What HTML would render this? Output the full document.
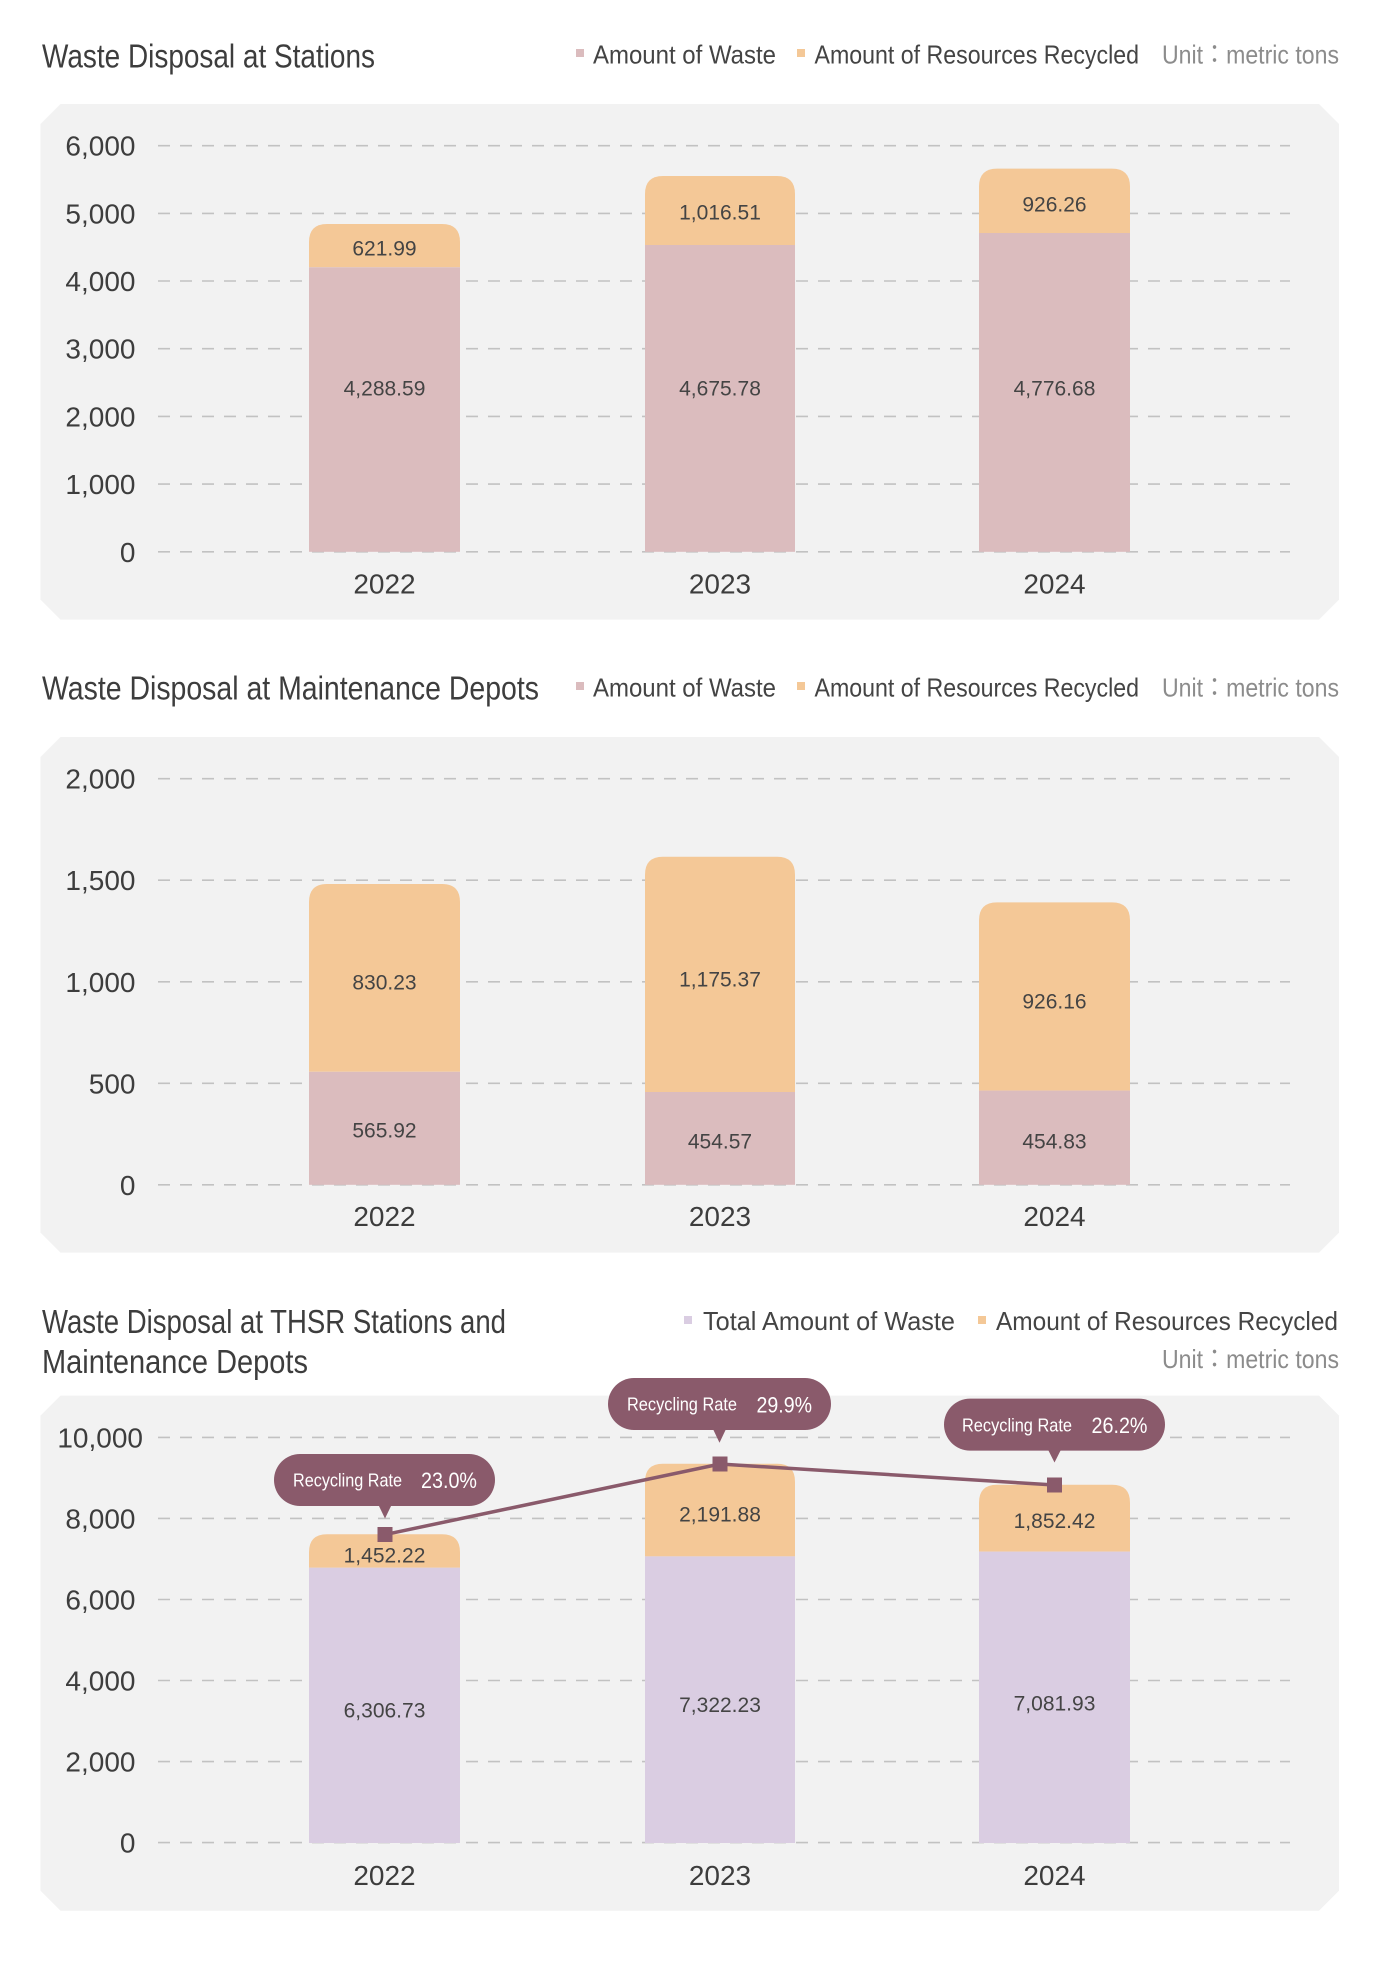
<!DOCTYPE html>
<html>
<head>
<meta charset="utf-8">
<style>
html,body{margin:0;padding:0;background:#ffffff;}
svg{display:block;}
text{font-family:"Liberation Sans","Noto Sans CJK TC",sans-serif;}
</style>
</head>
<body>
<svg width="1380" height="1966" viewBox="0 0 1380 1966" xmlns="http://www.w3.org/2000/svg">
<rect width="1380" height="1966" fill="#ffffff"/>

<!-- ============ CHART 1 ============ -->
<g>
<text x="42" y="67.5" font-size="33" fill="#3d3d3d" textLength="333" lengthAdjust="spacingAndGlyphs">Waste Disposal at Stations</text>
<rect x="576" y="49" width="8" height="8" fill="#dbbcbe"/>
<text x="593" y="63.5" font-size="26" fill="#444" textLength="183" lengthAdjust="spacingAndGlyphs">Amount of Waste</text>
<rect x="797" y="49" width="8" height="8" fill="#f4c897"/>
<text x="814.5" y="63.5" font-size="26" fill="#444" textLength="324.5" lengthAdjust="spacingAndGlyphs">Amount of Resources Recycled</text>
<text x="1162" y="63.5" font-size="26" fill="#8c8c8c" textLength="177" lengthAdjust="spacingAndGlyphs">Unit：metric tons</text>

<polygon points="60.5,104 1319,104 1339,124 1339,599.6 1319,619.6 60.5,619.6 40.5,599.6 40.5,124" fill="#f2f2f2"/>

<g stroke="#c2c2c2" stroke-width="1.6" stroke-dasharray="12 10">
<line x1="158" y1="145.7" x2="1290" y2="145.7"/>
<line x1="158" y1="213.4" x2="1290" y2="213.4"/>
<line x1="158" y1="281.0" x2="1290" y2="281.0"/>
<line x1="158" y1="348.7" x2="1290" y2="348.7"/>
<line x1="158" y1="416.4" x2="1290" y2="416.4"/>
<line x1="158" y1="484.1" x2="1290" y2="484.1"/>
<line x1="158" y1="551.8" x2="1290" y2="551.8"/>
</g>
<g font-size="28" fill="#3d3d3d" text-anchor="end">
<text x="135.5" y="155.7">6,000</text>
<text x="135.5" y="223.4">5,000</text>
<text x="135.5" y="291.0">4,000</text>
<text x="135.5" y="358.7">3,000</text>
<text x="135.5" y="426.4">2,000</text>
<text x="135.5" y="494.1">1,000</text>
<text x="135.5" y="561.8">0</text>
</g>

<!-- bars -->
<path d="M309,267.3 L309,242 Q309,224 327,224 L442,224 Q460,224 460,242 L460,267.3 Z" fill="#f4c897"/>
<rect x="309" y="267.3" width="151" height="284.5" fill="#dbbcbe"/>
<path d="M645,245 L645,194 Q645,176 663,176 L777,176 Q795,176 795,194 L795,245 Z" fill="#f4c897"/>
<rect x="645" y="245" width="150" height="306.8" fill="#dbbcbe"/>
<path d="M979,233 L979,186.6 Q979,168.6 997,168.6 L1112,168.6 Q1130,168.6 1130,186.6 L1130,233 Z" fill="#f4c897"/>
<rect x="979" y="233" width="151" height="318.8" fill="#dbbcbe"/>

<g font-size="21" fill="#444" text-anchor="middle">
<text x="384.5" y="255.3">621.99</text>
<text x="384.5" y="395.3">4,288.59</text>
<text x="720" y="219.7">1,016.51</text>
<text x="720" y="395.3">4,675.78</text>
<text x="1054.5" y="211.5">926.26</text>
<text x="1054.5" y="395.3">4,776.68</text>
</g>
<g font-size="28" fill="#3d3d3d" text-anchor="middle">
<text x="384.5" y="593.7">2022</text>
<text x="720" y="593.7">2023</text>
<text x="1054.5" y="593.7">2024</text>
</g>
</g>

<!-- ============ CHART 2 ============ -->
<g>
<text x="42" y="699.5" font-size="33" fill="#3d3d3d" textLength="497" lengthAdjust="spacingAndGlyphs">Waste Disposal at Maintenance Depots</text>
<rect x="576" y="682" width="8" height="8" fill="#dbbcbe"/>
<text x="593" y="696.5" font-size="26" fill="#444" textLength="183" lengthAdjust="spacingAndGlyphs">Amount of Waste</text>
<rect x="797" y="682" width="8" height="8" fill="#f4c897"/>
<text x="814.5" y="696.5" font-size="26" fill="#444" textLength="324.5" lengthAdjust="spacingAndGlyphs">Amount of Resources Recycled</text>
<text x="1162" y="696.5" font-size="26" fill="#8c8c8c" textLength="177" lengthAdjust="spacingAndGlyphs">Unit：metric tons</text>

<polygon points="60.5,737 1319,737 1339,757 1339,1232.6 1319,1252.6 60.5,1252.6 40.5,1232.6 40.5,757" fill="#f2f2f2"/>

<g stroke="#c2c2c2" stroke-width="1.6" stroke-dasharray="12 10">
<line x1="158" y1="778.7" x2="1290" y2="778.7"/>
<line x1="158" y1="880.2" x2="1290" y2="880.2"/>
<line x1="158" y1="981.8" x2="1290" y2="981.8"/>
<line x1="158" y1="1083.3" x2="1290" y2="1083.3"/>
<line x1="158" y1="1184.8" x2="1290" y2="1184.8"/>
</g>
<g font-size="28" fill="#3d3d3d" text-anchor="end">
<text x="135.5" y="788.7">2,000</text>
<text x="135.5" y="890.2">1,500</text>
<text x="135.5" y="991.8">1,000</text>
<text x="135.5" y="1093.3">500</text>
<text x="135.5" y="1194.8">0</text>
</g>

<path d="M309,1071.8 L309,902 Q309,884 327,884 L442,884 Q460,884 460,902 L460,1071.8 Z" fill="#f4c897"/>
<rect x="309" y="1071.8" width="151" height="113" fill="#dbbcbe"/>
<path d="M645,1092 L645,874.7 Q645,856.7 663,856.7 L777,856.7 Q795,856.7 795,874.7 L795,1092 Z" fill="#f4c897"/>
<rect x="645" y="1092" width="150" height="92.8" fill="#dbbcbe"/>
<path d="M979,1090.6 L979,920.4 Q979,902.4 997,902.4 L1112,902.4 Q1130,902.4 1130,920.4 L1130,1090.6 Z" fill="#f4c897"/>
<rect x="979" y="1090.6" width="151" height="94.2" fill="#dbbcbe"/>

<g font-size="21" fill="#444" text-anchor="middle">
<text x="384.5" y="989.5">830.23</text>
<text x="384.5" y="1137.3">565.92</text>
<text x="720" y="986.3">1,175.37</text>
<text x="720" y="1148.7">454.57</text>
<text x="1054.5" y="1008.7">926.16</text>
<text x="1054.5" y="1148.7">454.83</text>
</g>
<g font-size="28" fill="#3d3d3d" text-anchor="middle">
<text x="384.5" y="1226">2022</text>
<text x="720" y="1226">2023</text>
<text x="1054.5" y="1226">2024</text>
</g>
</g>

<!-- ============ CHART 3 ============ -->
<g>
<text x="42" y="1333" font-size="33" fill="#3d3d3d" textLength="464" lengthAdjust="spacingAndGlyphs">Waste Disposal at THSR Stations and</text>
<text x="42" y="1372.8" font-size="33" fill="#3d3d3d" textLength="266" lengthAdjust="spacingAndGlyphs">Maintenance Depots</text>
<rect x="684" y="1316" width="8" height="8" fill="#dacde2"/>
<text x="703" y="1330" font-size="26" fill="#444" textLength="252" lengthAdjust="spacingAndGlyphs">Total Amount of Waste</text>
<rect x="978" y="1316" width="8" height="8" fill="#f4c897"/>
<text x="996" y="1330" font-size="26" fill="#444" textLength="342" lengthAdjust="spacingAndGlyphs">Amount of Resources Recycled</text>
<text x="1162" y="1368" font-size="26" fill="#8c8c8c" textLength="177" lengthAdjust="spacingAndGlyphs">Unit：metric tons</text>

<polygon points="60.5,1395.6 1319,1395.6 1339,1415.6 1339,1890.7 1319,1910.7 60.5,1910.7 40.5,1890.7 40.5,1415.6" fill="#f2f2f2"/>

<g stroke="#c2c2c2" stroke-width="1.6" stroke-dasharray="12 10">
<line x1="158" y1="1437.4" x2="1290" y2="1437.4"/>
<line x1="158" y1="1518.4" x2="1290" y2="1518.4"/>
<line x1="158" y1="1599.5" x2="1290" y2="1599.5"/>
<line x1="158" y1="1680.5" x2="1290" y2="1680.5"/>
<line x1="158" y1="1761.6" x2="1290" y2="1761.6"/>
<line x1="158" y1="1842.6" x2="1290" y2="1842.6"/>
</g>
<g font-size="28" fill="#3d3d3d" text-anchor="end">
<text x="143" y="1447.4">10,000</text>
<text x="135.5" y="1528.4">8,000</text>
<text x="135.5" y="1609.5">6,000</text>
<text x="135.5" y="1690.5">4,000</text>
<text x="135.5" y="1771.6">2,000</text>
<text x="135.5" y="1852.6">0</text>
</g>

<path d="M309,1567.7 L309,1552.3 Q309,1534.3 327,1534.3 L442,1534.3 Q460,1534.3 460,1552.3 L460,1567.7 Z" fill="#f4c897"/>
<rect x="309" y="1567.7" width="151" height="275.3" fill="#dacde2"/>
<path d="M645,1556.4 L645,1481.7 Q645,1463.7 663,1463.7 L777,1463.7 Q795,1463.7 795,1481.7 L795,1556.4 Z" fill="#f4c897"/>
<rect x="645" y="1556.4" width="150" height="286.6" fill="#dacde2"/>
<path d="M979,1551.6 L979,1502.8 Q979,1484.8 997,1484.8 L1112,1484.8 Q1130,1484.8 1130,1502.8 L1130,1551.6 Z" fill="#f4c897"/>
<rect x="979" y="1551.6" width="151" height="291.4" fill="#dacde2"/>

<g font-size="21" fill="#444" text-anchor="middle">
<text x="384.5" y="1562.5">1,452.22</text>
<text x="384.5" y="1717.5">6,306.73</text>
<text x="720" y="1521.5">2,191.88</text>
<text x="720" y="1712.2">7,322.23</text>
<text x="1054.5" y="1528.1">1,852.42</text>
<text x="1054.5" y="1710.5">7,081.93</text>
</g>
<g font-size="28" fill="#3d3d3d" text-anchor="middle">
<text x="384.5" y="1885">2022</text>
<text x="720" y="1885">2023</text>
<text x="1054.5" y="1885">2024</text>
</g>

<!-- line + markers -->
<polyline points="385,1534.6 720,1464 1054.5,1485" fill="none" stroke="#8a5a6b" stroke-width="3.5"/>
<rect x="377.5" y="1527" width="15" height="15" fill="#8a5a6b"/>
<rect x="712.5" y="1456.5" width="15" height="15" fill="#8a5a6b"/>
<rect x="1047" y="1477.5" width="15" height="15" fill="#8a5a6b"/>

<!-- bubbles -->
<rect x="274" y="1454" width="221" height="52" rx="26" fill="#8a5a6b"/>
<polygon points="378,1504 392,1504 385,1518.5" fill="#8a5a6b"/>
<text x="293" y="1486.5" font-size="18" fill="#ffffff" textLength="109" lengthAdjust="spacingAndGlyphs">Recycling Rate</text>
<text x="421" y="1488" font-size="22" fill="#ffffff" textLength="56" lengthAdjust="spacingAndGlyphs">23.0%</text>

<rect x="608" y="1378" width="223" height="52" rx="26" fill="#8a5a6b"/>
<polygon points="712.5,1428 726.5,1428 719.5,1442.7" fill="#8a5a6b"/>
<text x="627" y="1410.7" font-size="18" fill="#ffffff" textLength="110" lengthAdjust="spacingAndGlyphs">Recycling Rate</text>
<text x="756.5" y="1412.5" font-size="22" fill="#ffffff" textLength="55.5" lengthAdjust="spacingAndGlyphs">29.9%</text>

<rect x="944" y="1398.6" width="221" height="52" rx="26" fill="#8a5a6b"/>
<polygon points="1047.5,1448.6 1061.5,1448.6 1054.5,1462.5" fill="#8a5a6b"/>
<text x="962" y="1431.3" font-size="18" fill="#ffffff" textLength="110" lengthAdjust="spacingAndGlyphs">Recycling Rate</text>
<text x="1091.5" y="1433" font-size="22" fill="#ffffff" textLength="56" lengthAdjust="spacingAndGlyphs">26.2%</text>
</g>
</svg>
</body>
</html>
